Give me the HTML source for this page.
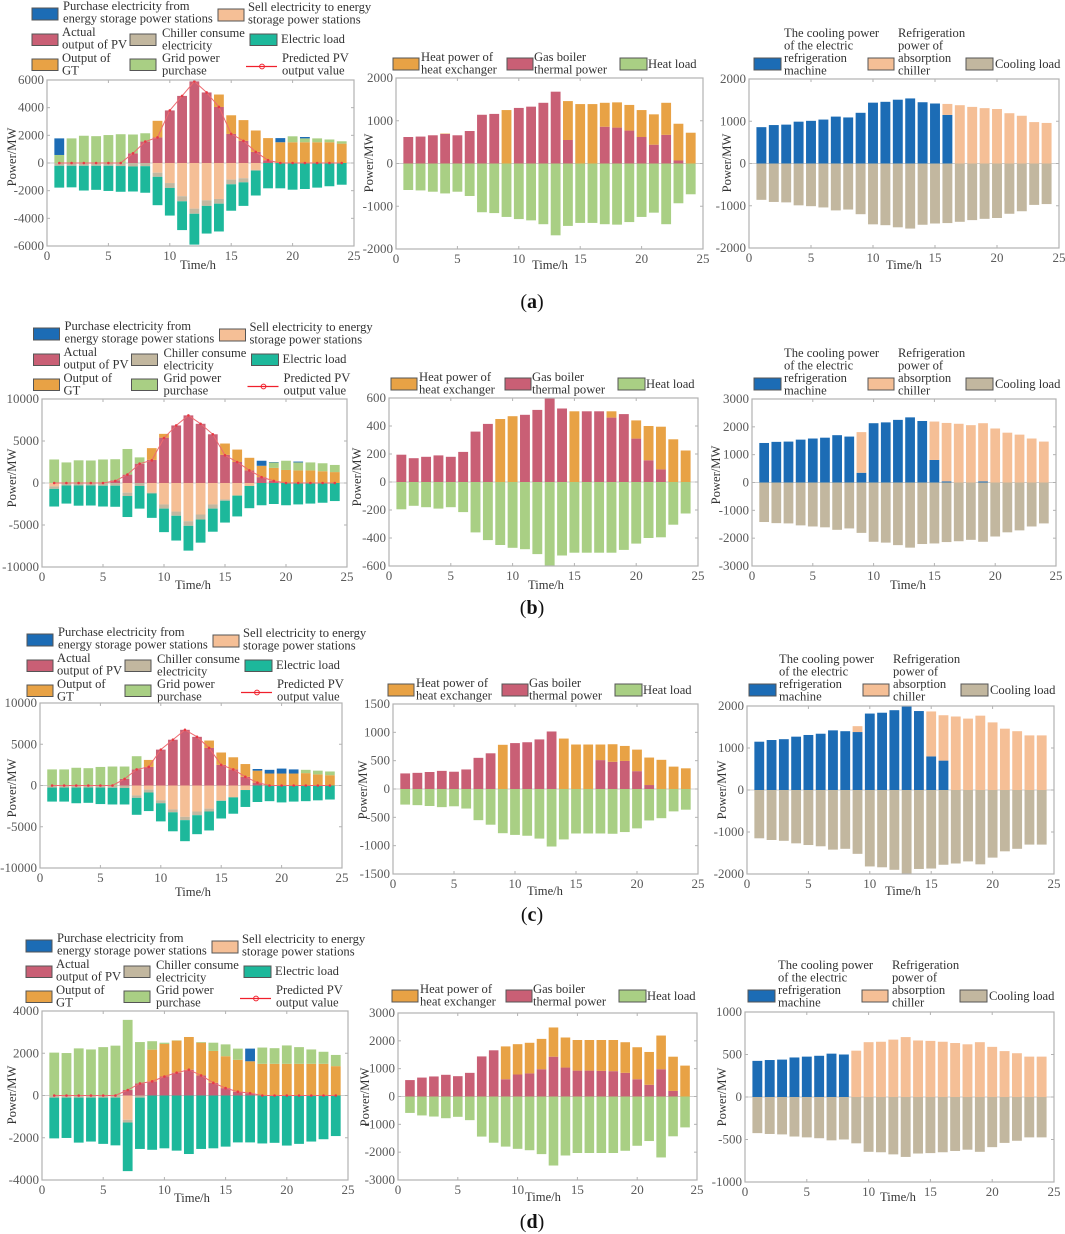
<!DOCTYPE html>
<html lang="en">
<head>
<meta charset="utf-8">
<title>Power balance charts for scenarios a to d</title>
<style>
html,body{margin:0;padding:0;background:#fff;}
body{width:1065px;height:1234px;overflow:hidden;}
#figure{display:block;filter:blur(0.35px);font-family:"Liberation Serif",serif;}
#figure text{font-size:12.6px;fill:#333;}
#figure text.tick{font-size:13px;fill:#5a5a5a;}
#figure text.panel{font-size:20px;fill:#111;}
rect.sw{stroke:#555;stroke-width:1;}
</style>
</head>
<body>
<svg id="figure" xmlns="http://www.w3.org/2000/svg" width="1065" height="1234" viewBox="0 0 1065 1234">
<rect x="0" y="0" width="1065" height="1234" fill="#fff"/>

<!-- PANEL A -->
<g>
<g><rect class="sw" x="32" y="8" width="26" height="12" fill="#1c6cb5"/><text x="63" y="10">Purchase electricity from<tspan x="63" dy="12.7">energy storage power stations</tspan></text></g>
<g><rect class="sw" x="218" y="9" width="26" height="12" fill="#f5bf96"/><text x="248" y="11">Sell electricity to energy<tspan x="248" dy="12.7">storage power stations</tspan></text></g>
<g><rect class="sw" x="32" y="34" width="26" height="11.5" fill="#c95f75"/><text x="62" y="36">Actual<tspan x="62" dy="12.7">output of PV</tspan></text></g>
<g><rect class="sw" x="130" y="34" width="26" height="11.5" fill="#c2b79f"/><text x="162" y="37">Chiller consume<tspan x="162" dy="12.7">electricity</tspan></text></g>
<g><rect class="sw" x="250" y="34" width="27" height="11.5" fill="#1db89b"/><text x="281" y="43">Electric load</text></g>
<g><rect class="sw" x="32" y="59" width="26" height="11.5" fill="#e8a245"/><text x="62" y="62">Output of<tspan x="62" dy="12.7">GT</tspan></text></g>
<g><rect class="sw" x="130" y="59" width="26" height="11.5" fill="#a9cf84"/><text x="162" y="62">Grid power<tspan x="162" dy="12.7">purchase</tspan></text></g>
<g><line x1="246" y1="66.5" x2="277" y2="66.5" stroke="#f0202c" stroke-width="1.2"/><circle cx="262" cy="66.5" r="2.4" fill="none" stroke="#f0202c"/><text x="282" y="62">Predicted PV<tspan x="282" dy="12.7">output value</tspan></text></g>
</g>
<g>
<g><rect class="sw" x="393" y="58" width="26" height="12" fill="#e8a245"/><text x="421" y="61">Heat power of<tspan x="421" dy="12.7">heat exchanger</tspan></text></g>
<g><rect class="sw" x="507" y="58" width="26" height="12" fill="#c95f75"/><text x="534" y="61">Gas boiler<tspan x="534" dy="12.7">thermal power</tspan></text></g>
<g><rect class="sw" x="620" y="58" width="27" height="12" fill="#a9cf84"/><text x="648" y="68">Heat load</text></g>
</g>
<g>
<g><rect class="sw" x="754" y="58" width="27" height="12" fill="#1c6cb5"/><text x="784" y="37">The cooling power<tspan x="784" dy="12.5">of the electric</tspan><tspan x="784" dy="12.5">refrigeration</tspan><tspan x="784" dy="12.5">machine</tspan></text></g>
<g><rect class="sw" x="868" y="58" width="26" height="12" fill="#f5bf96"/><text x="898" y="37">Refrigeration<tspan x="898" dy="12.5">power of</tspan><tspan x="898" dy="12.5">absorption</tspan><tspan x="898" dy="12.5">chiller</tspan></text></g>
<g><rect class="sw" x="966" y="58" width="27" height="12" fill="#c2b79f"/><text x="995" y="68">Cooling load</text></g>
</g>

<g id="chart-a-electric"><text x="198" y="269" text-anchor="middle">Time/h</text><text transform="translate(16,157) rotate(-90)" text-anchor="middle">Power/MW</text></g>
<g id="chart-a-heat"><text x="550" y="269" text-anchor="middle">Time/h</text><text transform="translate(373,163) rotate(-90)" text-anchor="middle">Power/MW</text></g>
<g id="chart-a-cooling"><text x="904" y="269" text-anchor="middle">Time/h</text><text transform="translate(731,163) rotate(-90)" text-anchor="middle">Power/MW</text></g>
<text class="panel" x="532" y="308" text-anchor="middle">(<tspan font-weight="bold">a</tspan>)</text>

<!-- PANEL B -->
<g transform="translate(1.5,320)">
<g><rect class="sw" x="32" y="8" width="26" height="12" fill="#1c6cb5"/><text x="63" y="10">Purchase electricity from<tspan x="63" dy="12.7">energy storage power stations</tspan></text></g>
<g><rect class="sw" x="218" y="9" width="26" height="12" fill="#f5bf96"/><text x="248" y="11">Sell electricity to energy<tspan x="248" dy="12.7">storage power stations</tspan></text></g>
<g><rect class="sw" x="32" y="34" width="26" height="11.5" fill="#c95f75"/><text x="62" y="36">Actual<tspan x="62" dy="12.7">output of PV</tspan></text></g>
<g><rect class="sw" x="130" y="34" width="26" height="11.5" fill="#c2b79f"/><text x="162" y="37">Chiller consume<tspan x="162" dy="12.7">electricity</tspan></text></g>
<g><rect class="sw" x="250" y="34" width="27" height="11.5" fill="#1db89b"/><text x="281" y="43">Electric load</text></g>
<g><rect class="sw" x="32" y="59" width="26" height="11.5" fill="#e8a245"/><text x="62" y="62">Output of<tspan x="62" dy="12.7">GT</tspan></text></g>
<g><rect class="sw" x="130" y="59" width="26" height="11.5" fill="#a9cf84"/><text x="162" y="62">Grid power<tspan x="162" dy="12.7">purchase</tspan></text></g>
<g><line x1="246" y1="66.5" x2="277" y2="66.5" stroke="#f0202c" stroke-width="1.2"/><circle cx="262" cy="66.5" r="2.4" fill="none" stroke="#f0202c"/><text x="282" y="62">Predicted PV<tspan x="282" dy="12.7">output value</tspan></text></g>
</g>
<g transform="translate(-2,320)">
<g><rect class="sw" x="393" y="58" width="26" height="12" fill="#e8a245"/><text x="421" y="61">Heat power of<tspan x="421" dy="12.7">heat exchanger</tspan></text></g>
<g><rect class="sw" x="507" y="58" width="26" height="12" fill="#c95f75"/><text x="534" y="61">Gas boiler<tspan x="534" dy="12.7">thermal power</tspan></text></g>
<g><rect class="sw" x="620" y="58" width="27" height="12" fill="#a9cf84"/><text x="648" y="68">Heat load</text></g>
</g>
<g transform="translate(0,320)">
<g><rect class="sw" x="754" y="58" width="27" height="12" fill="#1c6cb5"/><text x="784" y="37">The cooling power<tspan x="784" dy="12.5">of the electric</tspan><tspan x="784" dy="12.5">refrigeration</tspan><tspan x="784" dy="12.5">machine</tspan></text></g>
<g><rect class="sw" x="868" y="58" width="26" height="12" fill="#f5bf96"/><text x="898" y="37">Refrigeration<tspan x="898" dy="12.5">power of</tspan><tspan x="898" dy="12.5">absorption</tspan><tspan x="898" dy="12.5">chiller</tspan></text></g>
<g><rect class="sw" x="966" y="58" width="27" height="12" fill="#c2b79f"/><text x="995" y="68">Cooling load</text></g>
</g>

<g id="chart-b-electric"><text x="193" y="589" text-anchor="middle">Time/h</text><text transform="translate(16,478) rotate(-90)" text-anchor="middle">Power/MW</text></g>
<g id="chart-b-heat"><text x="546" y="589" text-anchor="middle">Time/h</text><text transform="translate(361,477) rotate(-90)" text-anchor="middle">Power/MW</text></g>
<g id="chart-b-cooling"><text x="908" y="589" text-anchor="middle">Time/h</text><text transform="translate(720,475) rotate(-90)" text-anchor="middle">Power/MW</text></g>
<text class="panel" x="532" y="614" text-anchor="middle">(<tspan font-weight="bold">b</tspan>)</text>

<!-- PANEL C -->
<g transform="translate(-5,626)">
<g><rect class="sw" x="32" y="8" width="26" height="12" fill="#1c6cb5"/><text x="63" y="10">Purchase electricity from<tspan x="63" dy="12.7">energy storage power stations</tspan></text></g>
<g><rect class="sw" x="218" y="9" width="26" height="12" fill="#f5bf96"/><text x="248" y="11">Sell electricity to energy<tspan x="248" dy="12.7">storage power stations</tspan></text></g>
<g><rect class="sw" x="32" y="34" width="26" height="11.5" fill="#c95f75"/><text x="62" y="36">Actual<tspan x="62" dy="12.7">output of PV</tspan></text></g>
<g><rect class="sw" x="130" y="34" width="26" height="11.5" fill="#c2b79f"/><text x="162" y="37">Chiller consume<tspan x="162" dy="12.7">electricity</tspan></text></g>
<g><rect class="sw" x="250" y="34" width="27" height="11.5" fill="#1db89b"/><text x="281" y="43">Electric load</text></g>
<g><rect class="sw" x="32" y="59" width="26" height="11.5" fill="#e8a245"/><text x="62" y="62">Output of<tspan x="62" dy="12.7">GT</tspan></text></g>
<g><rect class="sw" x="130" y="59" width="26" height="11.5" fill="#a9cf84"/><text x="162" y="62">Grid power<tspan x="162" dy="12.7">purchase</tspan></text></g>
<g><line x1="246" y1="66.5" x2="277" y2="66.5" stroke="#f0202c" stroke-width="1.2"/><circle cx="262" cy="66.5" r="2.4" fill="none" stroke="#f0202c"/><text x="282" y="62">Predicted PV<tspan x="282" dy="12.7">output value</tspan></text></g>
</g>
<g transform="translate(-5,626)">
<g><rect class="sw" x="393" y="58" width="26" height="12" fill="#e8a245"/><text x="421" y="61">Heat power of<tspan x="421" dy="12.7">heat exchanger</tspan></text></g>
<g><rect class="sw" x="507" y="58" width="26" height="12" fill="#c95f75"/><text x="534" y="61">Gas boiler<tspan x="534" dy="12.7">thermal power</tspan></text></g>
<g><rect class="sw" x="620" y="58" width="27" height="12" fill="#a9cf84"/><text x="648" y="68">Heat load</text></g>
</g>
<g transform="translate(-5,626)">
<g><rect class="sw" x="754" y="58" width="27" height="12" fill="#1c6cb5"/><text x="784" y="37">The cooling power<tspan x="784" dy="12.5">of the electric</tspan><tspan x="784" dy="12.5">refrigeration</tspan><tspan x="784" dy="12.5">machine</tspan></text></g>
<g><rect class="sw" x="868" y="58" width="26" height="12" fill="#f5bf96"/><text x="898" y="37">Refrigeration<tspan x="898" dy="12.5">power of</tspan><tspan x="898" dy="12.5">absorption</tspan><tspan x="898" dy="12.5">chiller</tspan></text></g>
<g><rect class="sw" x="966" y="58" width="27" height="12" fill="#c2b79f"/><text x="995" y="68">Cooling load</text></g>
</g>

<g id="chart-c-electric"><text x="193" y="896" text-anchor="middle">Time/h</text><text transform="translate(16,788) rotate(-90)" text-anchor="middle">Power/MW</text></g>
<g id="chart-c-heat"><text x="545" y="895" text-anchor="middle">Time/h</text><text transform="translate(367,790) rotate(-90)" text-anchor="middle">Power/MW</text></g>
<g id="chart-c-cooling"><text x="903" y="895" text-anchor="middle">Time/h</text><text transform="translate(726,790) rotate(-90)" text-anchor="middle">Power/MW</text></g>
<text class="panel" x="532" y="921" text-anchor="middle">(<tspan font-weight="bold">c</tspan>)</text>

<!-- PANEL D -->
<g transform="translate(-6,932)">
<g><rect class="sw" x="32" y="8" width="26" height="12" fill="#1c6cb5"/><text x="63" y="10">Purchase electricity from<tspan x="63" dy="12.7">energy storage power stations</tspan></text></g>
<g><rect class="sw" x="218" y="9" width="26" height="12" fill="#f5bf96"/><text x="248" y="11">Sell electricity to energy<tspan x="248" dy="12.7">storage power stations</tspan></text></g>
<g><rect class="sw" x="32" y="34" width="26" height="11.5" fill="#c95f75"/><text x="62" y="36">Actual<tspan x="62" dy="12.7">output of PV</tspan></text></g>
<g><rect class="sw" x="130" y="34" width="26" height="11.5" fill="#c2b79f"/><text x="162" y="37">Chiller consume<tspan x="162" dy="12.7">electricity</tspan></text></g>
<g><rect class="sw" x="250" y="34" width="27" height="11.5" fill="#1db89b"/><text x="281" y="43">Electric load</text></g>
<g><rect class="sw" x="32" y="59" width="26" height="11.5" fill="#e8a245"/><text x="62" y="62">Output of<tspan x="62" dy="12.7">GT</tspan></text></g>
<g><rect class="sw" x="130" y="59" width="26" height="11.5" fill="#a9cf84"/><text x="162" y="62">Grid power<tspan x="162" dy="12.7">purchase</tspan></text></g>
<g><line x1="246" y1="66.5" x2="277" y2="66.5" stroke="#f0202c" stroke-width="1.2"/><circle cx="262" cy="66.5" r="2.4" fill="none" stroke="#f0202c"/><text x="282" y="62">Predicted PV<tspan x="282" dy="12.7">output value</tspan></text></g>
</g>
<g transform="translate(-1,932)">
<g><rect class="sw" x="393" y="58" width="26" height="12" fill="#e8a245"/><text x="421" y="61">Heat power of<tspan x="421" dy="12.7">heat exchanger</tspan></text></g>
<g><rect class="sw" x="507" y="58" width="26" height="12" fill="#c95f75"/><text x="534" y="61">Gas boiler<tspan x="534" dy="12.7">thermal power</tspan></text></g>
<g><rect class="sw" x="620" y="58" width="27" height="12" fill="#a9cf84"/><text x="648" y="68">Heat load</text></g>
</g>
<g transform="translate(-6,932)">
<g><rect class="sw" x="754" y="58" width="27" height="12" fill="#1c6cb5"/><text x="784" y="37">The cooling power<tspan x="784" dy="12.5">of the electric</tspan><tspan x="784" dy="12.5">refrigeration</tspan><tspan x="784" dy="12.5">machine</tspan></text></g>
<g><rect class="sw" x="868" y="58" width="26" height="12" fill="#f5bf96"/><text x="898" y="37">Refrigeration<tspan x="898" dy="12.5">power of</tspan><tspan x="898" dy="12.5">absorption</tspan><tspan x="898" dy="12.5">chiller</tspan></text></g>
<g><rect class="sw" x="966" y="58" width="27" height="12" fill="#c2b79f"/><text x="995" y="68">Cooling load</text></g>
</g>

<g id="chart-d-electric"><text x="192" y="1202" text-anchor="middle">Time/h</text><text transform="translate(16,1095) rotate(-90)" text-anchor="middle">Power/MW</text></g>
<g id="chart-d-heat"><text x="543" y="1201" text-anchor="middle">Time/h</text><text transform="translate(369,1097) rotate(-90)" text-anchor="middle">Power/MW</text></g>
<g id="chart-d-cooling"><text x="898" y="1201" text-anchor="middle">Time/h</text><text transform="translate(726,1097) rotate(-90)" text-anchor="middle">Power/MW</text></g>
<text class="panel" x="532" y="1228" text-anchor="middle">(<tspan font-weight="bold">d</tspan>)</text>
</svg>

<script>
// ---------- shared categories and ticks ----------
const hours = [1,2,3,4,5,6,7,8,9,10,11,12,13,14,15,16,17,18,19,20,21,22,23,24];
const xTickLabels = [0,5,10,15,20,25];
const yTicksAElectric = [-6000,-4000,-2000,0,2000,4000,6000];
const yTicksAHeat = [-2000,-1000,0,1000,2000];
const yTicksACooling = [-2000,-1000,0,1000,2000];
const yTicksBElectric = [-10000,-5000,0,5000,10000];
const yTicksBHeat = [-600,-400,-200,0,200,400,600];
const yTicksBCooling = [-3000,-2000,-1000,0,1000,2000,3000];
const yTicksCElectric = [-10000,-5000,0,5000,10000];
const yTicksCHeat = [-1500,-1000,-500,0,500,1000,1500];
const yTicksCCooling = [-2000,-1000,0,1000,2000];
const yTicksDElectric = [-4000,-2000,0,2000,4000];
const yTicksDHeat = [-3000,-2000,-1000,0,1000,2000,3000];
const yTicksDCooling = [-1000,-500,0,500,1000];

// ---------- panel a: electric ----------
const aPV = [0,0,0,0,0,0,700,1550,1850,3800,4850,5900,5100,4050,2100,1600,800,200,0,0,0,0,0,0];
const aGT = [0,0,0,0,0,0,0,0,1200,0,0,0,0,900,1350,1500,1550,1600,1500,1500,1500,1500,1500,1400];
const aGrid = [580,1780,1970,1940,2020,2080,1360,600,0,0,0,0,0,0,0,0,0,0,0,430,280,280,200,170];
const aPurchase = [1200,0,0,0,0,0,0,0,0,0,0,0,0,0,0,0,0,0,300,0,100,0,0,0];
const aSell = [0,0,0,0,0,0,0,0,-700,-1450,-2400,-3300,-2700,-2600,-1200,-1100,-500,0,0,0,0,0,0,0];
const aChiller = [-200,-200,-200,-200,-200,-220,-250,-230,-300,-350,-370,-370,-400,-340,-340,-300,-50,0,0,0,0,0,0,0];
const aLoad = [-1580,-1560,-1790,-1740,-1820,-1860,-1810,-1920,-2050,-2000,-2080,-2230,-2000,-2010,-1910,-1700,-1800,-1830,-1830,-1930,-1880,-1780,-1680,-1570];
const aPredicted = [0,0,0,0,0,0,700,1550,1850,3800,4850,5900,5100,4050,2100,1600,800,200,0,0,0,0,0,0];
// panel a: heat
const aBoiler = [620,630,660,690,660,760,1140,1160,0,1300,1330,1420,1680,550,0,0,860,840,770,620,440,670,70,0];
const aExchanger = [0,0,0,10,0,0,0,0,1250,0,0,0,0,910,1390,1390,560,590,600,630,710,750,860,720];
const aHeatLoad = [-620,-630,-660,-700,-660,-760,-1140,-1160,-1250,-1300,-1330,-1420,-1680,-1460,-1390,-1390,-1420,-1430,-1370,-1250,-1150,-1420,-930,-720];
// panel a: cooling
const aElecCool = [860,910,920,990,1010,1040,1110,1090,1200,1440,1460,1510,1540,1450,1420,1150,0,0,0,0,0,0,0,0];
const aAbsorb = [0,0,0,0,0,0,0,0,0,0,0,0,0,0,0,260,1380,1340,1310,1290,1190,1130,980,960];
const aCoolLoad = [-860,-910,-920,-990,-1010,-1040,-1110,-1090,-1200,-1440,-1460,-1510,-1540,-1450,-1420,-1410,-1380,-1340,-1310,-1290,-1190,-1130,-980,-960];

// ---------- panel b: electric ----------
const bPV = [0,0,0,0,0,300,1000,2300,2750,5400,6850,8050,7050,5800,3350,2500,1500,700,250,0,0,0,0,0];
const bGT = [0,0,0,0,0,0,0,0,1400,450,0,0,0,0,1350,1480,1500,1350,1550,1550,1500,1500,1400,1300];
const bGrid = [2800,2450,2700,2680,2800,2530,3050,750,0,0,0,0,0,0,0,0,0,0,650,1100,950,950,950,850];
const bPurchase = [0,0,0,0,0,0,0,0,0,0,0,0,0,0,0,0,0,600,50,0,100,0,0,0];
const bSell = [-400,0,0,0,0,0,-1150,0,-1150,-2550,-3400,-4550,-3750,-2550,-1950,-1500,-350,0,0,0,0,0,0,0];
const bChiller = [-300,-300,-300,-300,-320,-320,-400,-350,-100,-500,-500,-550,-600,-500,-160,0,0,0,0,0,0,0,0,0];
const bLoad = [-2100,-2150,-2400,-2380,-2480,-2510,-2500,-2700,-2900,-2800,-2950,-2950,-2750,-2750,-2600,-2480,-2650,-2650,-2500,-2650,-2550,-2450,-2350,-2150];
const bPredicted = [0,0,0,0,0,250,1000,2300,2700,5350,6850,8050,7050,5800,3300,2500,1500,700,250,0,0,0,0,0];
// panel b: heat
const bBoiler = [195,170,180,190,180,215,360,415,0,0,480,515,640,525,0,505,505,460,485,310,155,90,0,0];
const bExchanger = [0,0,0,0,0,0,0,0,450,470,0,0,0,0,505,0,0,45,0,130,245,305,305,225];
const bHeatLoad = [-195,-170,-180,-190,-180,-215,-360,-415,-450,-470,-480,-515,-640,-525,-505,-505,-505,-505,-485,-440,-400,-395,-305,-225];
// panel b: cooling
const bElecCool = [1420,1460,1470,1540,1580,1610,1700,1650,350,2130,2160,2250,2340,2210,810,40,0,0,40,0,0,0,0,0];
const bAbsorb = [0,0,0,0,0,0,0,0,1460,0,0,0,0,0,1380,2100,2110,2060,2090,1940,1790,1720,1580,1470];
const bCoolLoad = [-1420,-1460,-1470,-1540,-1580,-1610,-1700,-1650,-1810,-2130,-2160,-2250,-2340,-2210,-2190,-2140,-2110,-2060,-2130,-1940,-1790,-1720,-1580,-1470];

// ---------- panel c: electric ----------
const cPV = [0,0,0,0,0,0,800,1950,2250,4350,5550,6750,5900,4550,2500,1950,1050,350,0,0,0,0,0,0];
const cGT = [0,0,0,0,0,0,0,0,850,0,0,0,0,900,1500,1470,1550,1450,1450,1450,1450,1500,1350,1250];
const cGrid = [1950,1950,2150,2100,2250,2300,1500,1600,0,0,0,0,0,0,0,0,0,0,0,0,0,400,450,450];
const cPurchase = [0,0,0,0,0,0,0,0,0,0,0,0,0,0,0,0,0,200,450,600,500,0,0,0];
const cSell = [0,0,0,0,0,0,0,-1200,-500,-1800,-2900,-3800,-3150,-2800,-1800,-1400,-550,0,0,0,0,0,0,0];
const cChiller = [-250,-250,-250,-250,-250,-270,-300,-300,-350,-350,-350,-400,-450,-350,-70,-50,0,0,0,0,0,0,0,0];
const cLoad = [-1700,-1700,-1900,-1850,-2000,-2030,-2000,-2050,-2250,-2200,-2300,-2550,-2300,-2300,-2130,-1970,-2050,-2000,-1900,-2050,-1950,-1900,-1800,-1700];
const cPredicted = [0,0,0,0,0,0,800,1950,2250,4350,5550,6750,5900,4550,2500,1950,1050,350,0,0,0,0,0,0];
// panel c: heat
const cBoiler = [275,285,300,320,305,345,550,630,0,810,825,875,1015,0,0,0,510,480,495,315,70,0,0,0];
const cExchanger = [0,0,0,0,0,0,0,0,780,0,0,0,0,890,785,785,275,310,265,380,485,515,395,365];
const cHeatLoad = [-275,-285,-300,-320,-305,-345,-550,-630,-780,-810,-825,-875,-1015,-890,-785,-785,-785,-790,-760,-695,-555,-515,-395,-365];
// panel c: cooling
const cElecCool = [1150,1190,1210,1270,1310,1340,1420,1400,1380,1820,1840,1900,2000,1880,800,700,0,0,0,0,0,0,0,0];
const cAbsorb = [0,0,0,0,0,0,0,0,140,0,0,0,0,0,1070,1080,1750,1700,1770,1610,1460,1400,1300,1300];
const cCoolLoad = [-1150,-1190,-1210,-1270,-1310,-1340,-1420,-1400,-1520,-1820,-1840,-1900,-2000,-1880,-1870,-1780,-1750,-1700,-1770,-1610,-1460,-1400,-1300,-1300];

// ---------- panel d: electric ----------
const dPV = [0,0,0,0,0,0,260,570,670,900,1080,1220,950,600,350,180,110,0,0,0,0,0,0,0];
const dGT = [0,0,0,0,0,0,0,0,1500,1540,1520,1550,1550,1510,1510,1510,1510,1500,1500,1500,1500,1500,1500,1390];
const dGrid = [2030,2010,2230,2180,2290,2360,3320,1960,400,60,10,0,30,390,560,530,0,770,740,870,790,680,570,530];
const dPurchase = [0,0,0,0,0,0,0,0,0,0,0,0,0,0,0,0,600,0,0,0,0,0,0,0];
const dSell = [0,0,0,0,0,0,-1150,0,0,0,0,0,0,0,0,0,0,0,0,0,0,0,0,0];
const dChiller = [-100,-100,-100,-100,-100,-100,-130,-100,0,0,0,0,0,0,0,0,0,0,0,0,0,0,0,0];
const dLoad = [-1930,-1910,-2130,-2080,-2190,-2260,-2300,-2430,-2570,-2500,-2610,-2770,-2530,-2500,-2420,-2220,-2220,-2270,-2240,-2370,-2290,-2180,-2070,-1920];
const dPredicted = [0,0,0,0,0,0,260,570,670,900,1080,1220,950,600,350,180,110,0,0,0,0,0,0,0];
// panel d: heat
const dBoiler = [590,680,720,780,730,850,1440,1660,620,790,830,980,1430,1040,930,930,920,910,850,620,420,980,200,0];
const dExchanger = [0,0,0,0,0,0,0,0,1180,1090,1100,1090,1050,1080,1100,1100,1110,1120,1100,1150,1180,1210,1230,1110];
const dHeatLoad = [-590,-680,-720,-780,-730,-850,-1440,-1660,-1800,-1880,-1930,-2070,-2480,-2120,-2030,-2030,-2030,-2030,-1950,-1770,-1600,-2190,-1430,-1110];
// panel d: cooling
const dElecCool = [425,435,440,465,475,485,510,500,0,0,0,0,0,0,0,0,0,0,0,0,0,0,0,0];
const dAbsorb = [0,0,0,0,0,0,0,0,545,645,650,675,705,665,660,650,635,620,645,590,540,515,475,475];
const dCoolLoad = [-425,-435,-440,-465,-475,-485,-510,-500,-545,-645,-650,-675,-705,-665,-660,-650,-635,-620,-645,-590,-540,-515,-475,-475];

// ---------- styling ----------
const SVG_NS = 'http://www.w3.org/2000/svg';
const colorBlue = '#1c6cb5';
const colorPeach = '#f5bf96';
const colorRose = '#c95f75';
const colorKhaki = '#c2b79f';
const colorTeal = '#1db89b';
const colorOrange = '#e8a245';
const colorGreen = '#a9cf84';
const axisGray = '#b2b2b2';
const barFraction = 0.8;
const xMax = 25;

function electricSeries(pv, gt, grid, purchase, sell, chiller, load) {
  return [
    {name:'pv', values:pv, color:colorRose},
    {name:'gt', values:gt, color:colorOrange},
    {name:'grid', values:grid, color:colorGreen},
    {name:'purchase', values:purchase, color:colorBlue},
    {name:'sell', values:sell, color:colorPeach},
    {name:'chiller', values:chiller, color:colorKhaki},
    {name:'electric-load', values:load, color:colorTeal}
  ];
}
function heatSeries(boiler, exchanger, load) {
  return [
    {name:'gas-boiler', values:boiler, color:colorRose},
    {name:'heat-exchanger', values:exchanger, color:colorOrange},
    {name:'heat-load', values:load, color:colorGreen}
  ];
}
function coolingSeries(elec, absorb, load) {
  return [
    {name:'electric-cooling', values:elec, color:colorBlue},
    {name:'absorption', values:absorb, color:colorPeach},
    {name:'cooling-load', values:load, color:colorKhaki}
  ];
}

function drawChart(id, box, yTicks, series, predicted) {
  const host = document.getElementById(id);
  const yMin = yTicks[0];
  const yMax = yTicks[yTicks.length - 1];
  const xScale = function (v) { return box.left + (v / xMax) * (box.right - box.left); };
  const yScale = function (v) { return box.bottom - ((v - yMin) / (yMax - yMin)) * (box.bottom - box.top); };
  const unit = (box.right - box.left) / xMax;

  const defs = document.createElementNS(SVG_NS, 'clipPath');
  defs.setAttribute('id', id + '-clip');
  const clipRect = document.createElementNS(SVG_NS, 'rect');
  clipRect.setAttribute('x', box.left);
  clipRect.setAttribute('y', box.top);
  clipRect.setAttribute('width', box.right - box.left);
  clipRect.setAttribute('height', box.bottom - box.top);
  defs.appendChild(clipRect);
  host.appendChild(defs);

  // zero line
  const zero = document.createElementNS(SVG_NS, 'line');
  
  
  zero.setAttribute('x1', box.left);
  zero.setAttribute('x2', box.right);
  zero.setAttribute('y1', yScale(0));
  zero.setAttribute('y2', yScale(0));
  zero.setAttribute('stroke', '#cfcfcf');
  zero.setAttribute('stroke-width', '1');
  host.appendChild(zero);

  // bars
  const barsGroup = document.createElementNS(SVG_NS, 'g');
  
  
  barsGroup.setAttribute('clip-path', 'url(#' + id + '-clip)');
  hours.forEach(function (hour, i) {
    let posBase = 0;
    let negBase = 0;
    series.forEach(function (s) {
      const v = s.values[i];
      if (!v) { return; }
      const start = v > 0 ? posBase : negBase;
      const end = start + v;
      if (v > 0) { posBase = end; } else { negBase = end; }
      const bar = document.createElementNS(SVG_NS, 'rect');
      
      
      bar.setAttribute('x', xScale(hour) - unit * barFraction / 2);
      bar.setAttribute('width', unit * barFraction);
      bar.setAttribute('y', Math.min(yScale(start), yScale(end)));
      bar.setAttribute('height', Math.abs(yScale(end) - yScale(start)));
      bar.setAttribute('fill', s.color);
      barsGroup.appendChild(bar);
    });
  });
  host.appendChild(barsGroup);

  // predicted line
  if (predicted) {
    const line = document.createElementNS(SVG_NS, 'polyline');
    
    
    line.setAttribute('fill', 'none');
    line.setAttribute('stroke', '#ee6a70');
    line.setAttribute('stroke-width', '1');
    line.setAttribute('points', hours.map(function (hour, i) {
      return xScale(hour) + ',' + yScale(predicted[i]);
    }).join(' '));
    host.appendChild(line);
    hours.forEach(function (hour, i) {
      const dot = document.createElementNS(SVG_NS, 'circle');
      
      
      dot.setAttribute('cx', xScale(hour));
      dot.setAttribute('cy', yScale(predicted[i]));
      dot.setAttribute('r', '1.3');
      dot.setAttribute('fill', '#e83a44');
      host.appendChild(dot);
    });
  }

  // frame
  const frame = document.createElementNS(SVG_NS, 'rect');
  
  
  frame.setAttribute('x', box.left);
  frame.setAttribute('y', box.top);
  frame.setAttribute('width', box.right - box.left);
  frame.setAttribute('height', box.bottom - box.top);
  frame.setAttribute('fill', 'none');
  frame.setAttribute('stroke', axisGray);
  frame.setAttribute('stroke-width', '1.2');
  host.appendChild(frame);

  // x ticks
  xTickLabels.forEach(function (t) {
    [[box.bottom, box.bottom - 3], [box.top, box.top + 3]].forEach(function (pair) {
      const tick = document.createElementNS(SVG_NS, 'line');
      
      
      tick.setAttribute('x1', xScale(t));
      tick.setAttribute('x2', xScale(t));
      tick.setAttribute('y1', pair[0]);
      tick.setAttribute('y2', pair[1]);
      tick.setAttribute('stroke', axisGray);
      host.appendChild(tick);
    });
    const label = document.createElementNS(SVG_NS, 'text');
    
    
    label.setAttribute('class', 'tick');
    label.setAttribute('x', xScale(t));
    label.setAttribute('y', box.bottom + 14);
    label.setAttribute('text-anchor', 'middle');
    label.textContent = t;
    host.appendChild(label);
  });

  // y ticks
  yTicks.forEach(function (t) {
    [[box.left, box.left + 3], [box.right, box.right - 3]].forEach(function (pair) {
      const tick = document.createElementNS(SVG_NS, 'line');
      
      
      tick.setAttribute('x1', pair[0]);
      tick.setAttribute('x2', pair[1]);
      tick.setAttribute('y1', yScale(t));
      tick.setAttribute('y2', yScale(t));
      tick.setAttribute('stroke', axisGray);
      host.appendChild(tick);
    });
    const label = document.createElementNS(SVG_NS, 'text');
    
    
    label.setAttribute('class', 'tick');
    label.setAttribute('x', box.left - 3);
    label.setAttribute('y', yScale(t) + 4);
    label.setAttribute('text-anchor', 'end');
    label.textContent = t;
    host.appendChild(label);
  });
}

drawChart('chart-a-electric', {left:47,right:354,top:80,bottom:246}, yTicksAElectric, electricSeries(aPV,aGT,aGrid,aPurchase,aSell,aChiller,aLoad), aPredicted);
drawChart('chart-a-heat', {left:396,right:703,top:78,bottom:249}, yTicksAHeat, heatSeries(aBoiler,aExchanger,aHeatLoad), null);
drawChart('chart-a-cooling', {left:749,right:1059,top:79,bottom:248}, yTicksACooling, coolingSeries(aElecCool,aAbsorb,aCoolLoad), null);

drawChart('chart-b-electric', {left:42,right:347,top:399,bottom:567}, yTicksBElectric, electricSeries(bPV,bGT,bGrid,bPurchase,bSell,bChiller,bLoad), bPredicted);
drawChart('chart-b-heat', {left:389,right:698,top:398,bottom:566}, yTicksBHeat, heatSeries(bBoiler,bExchanger,bHeatLoad), null);
drawChart('chart-b-cooling', {left:752,right:1056,top:399,bottom:566}, yTicksBCooling, coolingSeries(bElecCool,bAbsorb,bCoolLoad), null);

drawChart('chart-c-electric', {left:40,right:342,top:703,bottom:868}, yTicksCElectric, electricSeries(cPV,cGT,cGrid,cPurchase,cSell,cChiller,cLoad), cPredicted);
drawChart('chart-c-heat', {left:393,right:698,top:704,bottom:874}, yTicksCHeat, heatSeries(cBoiler,cExchanger,cHeatLoad), null);
drawChart('chart-c-cooling', {left:747,right:1054,top:706,bottom:874}, yTicksCCooling, coolingSeries(cElecCool,cAbsorb,cCoolLoad), null);

drawChart('chart-d-electric', {left:42,right:348,top:1011,bottom:1180}, yTicksDElectric, electricSeries(dPV,dGT,dGrid,dPurchase,dSell,dChiller,dLoad), dPredicted);
drawChart('chart-d-heat', {left:398,right:697,top:1013,bottom:1180}, yTicksDHeat, heatSeries(dBoiler,dExchanger,dHeatLoad), null);
drawChart('chart-d-cooling', {left:745,right:1054,top:1012,bottom:1182}, yTicksDCooling, coolingSeries(dElecCool,dAbsorb,dCoolLoad), null);
</script>
</body>
</html>
